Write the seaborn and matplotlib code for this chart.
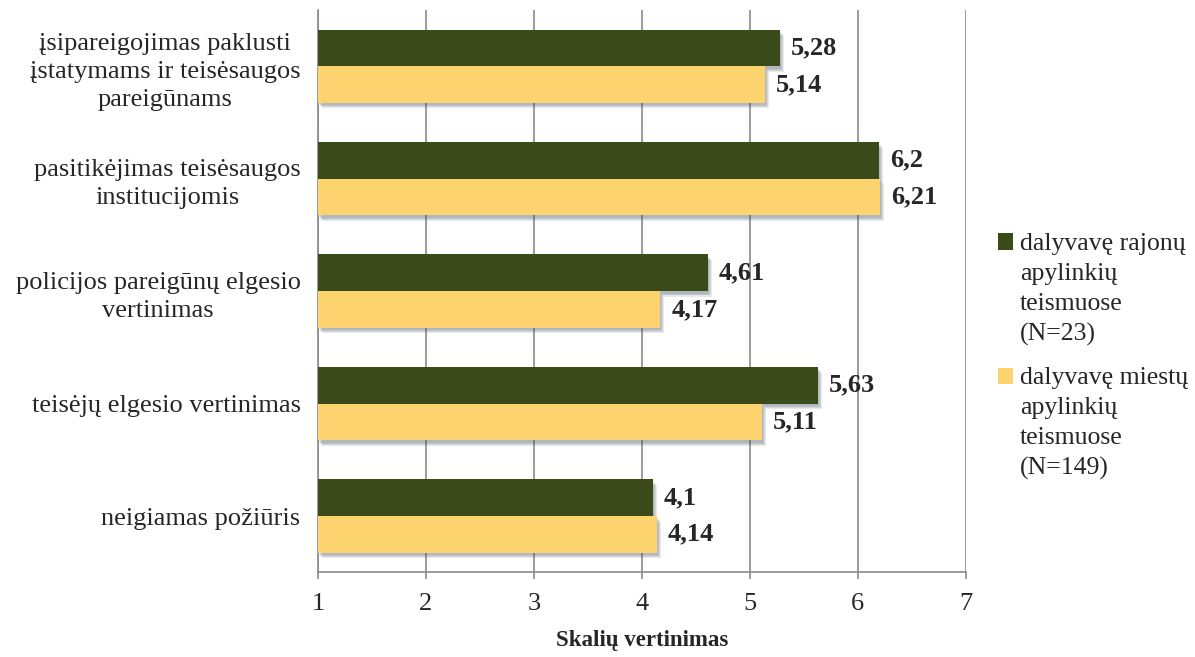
import pandas as pd
import matplotlib.pyplot as plt
import matplotlib.patheffects as pe
from matplotlib.patches import Patch
import seaborn as sns

categories = ["įsipareigojimas paklusti\nįstatymams ir teisėsaugos\npareigūnams",
              "pasitikėjimas teisėsaugos\ninstitucijomis",
              "policijos pareigūnų elgesio\nvertinimas",
              "teisėjų elgesio vertinimas",
              "neigiamas požiūris"]
rajonu = [5.28, 6.2, 4.61, 5.63, 4.1]
miestu = [5.14, 6.21, 4.17, 5.11, 4.14]
series = ["dalyvavę rajonų\napylinkių\nteismuose\n(N=23)",
          "dalyvavę miestų\napylinkių\nteismuose\n(N=149)"]
colors = ["#3b4a19", "#fdd36f"]

df = pd.DataFrame({
    "kategorija": categories * 2,
    "reiksme": rajonu + miestu,
    "grupe": [series[0]] * len(categories) + [series[1]] * len(categories),
})

sns.set_style("white")
plt.rcParams['font.family'] = ['Liberation Serif', 'DejaVu Serif']

fig = plt.figure(figsize=(11.95, 6.57), dpi=100)
ax = fig.add_axes([0.266, 0.129, 0.542, 0.856])

sns.barplot(data=df, y="kategorija", x="reiksme", hue="grupe", orient="h",
            palette=colors, width=0.65, ax=ax, legend=False, saturation=1)

# soft drop shadow made of a few faint offset copies
shadow = [pe.SimplePatchShadow(offset=(o, -o - 1), shadow_rgbFace="#4a5a6a", alpha=0.13)
          for o in (3, 2.2, 1.5, 0.8)] + [pe.Normal()]

for cont, vals in zip(ax.containers, [rajonu, miestu]):
    for p, v in zip(cont, vals):
        p.set_linewidth(0)
        p.set_path_effects(shadow)
        p.set_zorder(3)
        p.set_x(1)
        p.set_width(v - 1)
        ax.annotate(f"{v:g}".replace(".", ","), (v, p.get_y() + p.get_height() / 2),
                    xytext=(8, 0), textcoords="offset points", va="center", ha="left",
                    fontsize=19, fontweight="bold")

ax.set_xlim(1, 7)
ax.set_xticks(range(1, 8))
ax.grid(axis="x", color="#8a8a8a", linewidth=1.2, zorder=0)
ax.set_axisbelow(True)
for s in ["top", "right"]:
    ax.spines[s].set_visible(False)
for s in ["left", "bottom"]:
    ax.spines[s].set_color("#8a8a8a")
    ax.spines[s].set_linewidth(1.2)
ax.tick_params(axis="x", bottom=True, length=5, width=1.2, color="#8a8a8a",
               labelsize=19, pad=10)
ax.tick_params(axis="y", left=False, labelsize=19, pad=9)
for t in ax.get_yticklabels():
    t.set_multialignment("center")
    t.set_linespacing(1.35)
ax.set_ylabel("")
ax.set_xlabel("Skalių vertinimas", fontsize=16.5, fontweight="bold", labelpad=11)

handles = [Patch(facecolor=c, edgecolor="none") for c in colors]
leg = fig.legend(handles, series, loc="upper left", bbox_to_anchor=(0.835, 0.645),
                 frameon=False, fontsize=18.5, handlelength=0.6, handleheight=0.6,
                 handletextpad=0.25, labelspacing=0.85, borderpad=0, borderaxespad=0)
for t in leg.get_texts():
    t.set_linespacing(1.45)
# put the square next to the first line of each label
for h in leg.legend_handles:
    h.set_y(h.get_y() + 34)

fig.savefig("out.png", dpi=100)
